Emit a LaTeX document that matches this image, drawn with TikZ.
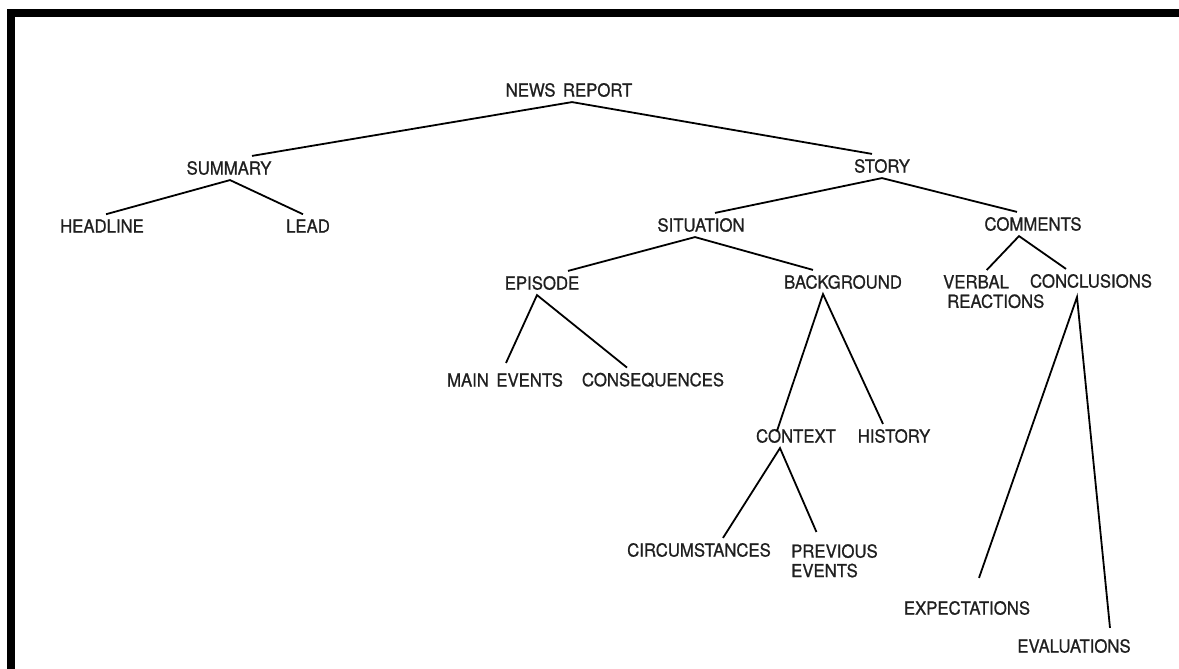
\documentclass[tikz,border=0pt]{standalone}
\usepackage{fontspec}
\setmainfont[FakeStretch=0.93,FakeBold=0.9,WordSpace=1.6]{TeX Gyre Heros}
\begin{document}
\begin{tikzpicture}[x=1pt,y=-1pt,
  lbl/.style={inner xsep=0pt,inner ysep=5pt,text=black!88,font=\fontsize{18}{19.5}\selectfont},
  branch/.style={line width=1.8pt}]
\useasboundingbox (0,0) rectangle (1179,669);
% frame on the top and left
\fill (7,9) rectangle (15,669);
\fill (7,9) rectangle (1179,17);

% labels
\node[lbl] (news) at (569,90) {NEWS REPORT};
\node[lbl] (summary) at (229,168) {SUMMARY};
\node[lbl] (story) at (882,166) {STORY};
\node[lbl] (headline) at (102,226) {HEADLINE};
\node[lbl] (lead) at (308,226) {LEAD};
\node[lbl] (situation) at (701,225) {SITUATION};
\node[lbl] (comments) at (1033,224) {COMMENTS};
\node[lbl] (episode) at (542,283) {EPISODE};
\node[lbl] (background) at (843,282) {BACKGROUND};
\node[lbl,align=left,anchor=north west] (verbal) at (943,270) {VERBAL\\\hspace*{4pt}REACTIONS};
\node[lbl] (conclusions) at (1091,281) {CONCLUSIONS};
\node[lbl] (mainev) at (505,380) {MAIN EVENTS};
\node[lbl] (conseq) at (653,380) {CONSEQUENCES};
\node[lbl] (context) at (796,436) {CONTEXT};
\node[lbl] (history) at (894,436) {HISTORY};
\node[lbl] (circ) at (699,550) {CIRCUMSTANCES};
\node[lbl,align=left,anchor=north west] (prev) at (791,539) {PREVIOUS\\EVENTS};
\node[lbl] (expect) at (967,608) {EXPECTATIONS};
\node[lbl] (eval) at (1074,646) {EVALUATIONS};

% branches
\draw[branch] ([xshift=23pt]summary.north) -- ([xshift=3pt]news.south) -- ([xshift=-10pt]story.north);
\draw[branch] ([xshift=4pt]headline.north) -- ([xshift=1pt]summary.south) -- ([xshift=-5pt]lead.north);
\draw[branch] ([xshift=14pt]situation.north) -- (story.south) -- ([xshift=-16pt]comments.north);
\draw[branch] ([xshift=26pt]episode.north) -- ([xshift=-6pt]situation.south) -- ([xshift=-30pt]background.north);
\draw[branch] ([xshift=1pt,yshift=5pt]mainev.north) -- ([xshift=-5pt]episode.south) -- ([xshift=-26pt]conseq.north);
\draw[branch] ([xshift=-19pt,yshift=-7pt]context.north) -- ([xshift=-20pt]background.south) -- ([xshift=-11pt]history.north);
\draw[branch] ([xshift=24pt]circ.north) -- ([xshift=-16pt]context.south) -- ([xshift=-18pt,yshift=7pt]prev.north);
\draw[branch] ([xshift=-7pt]verbal.north) -- ([xshift=-14pt]comments.south) -- ([xshift=-25pt]conclusions.north);
\draw[branch] ([xshift=12pt,yshift=18pt]expect.north) -- ([xshift=-14pt,yshift=-4pt]conclusions.south) -- ([xshift=36pt,yshift=6pt]eval.north);
\end{tikzpicture}
\end{document}
